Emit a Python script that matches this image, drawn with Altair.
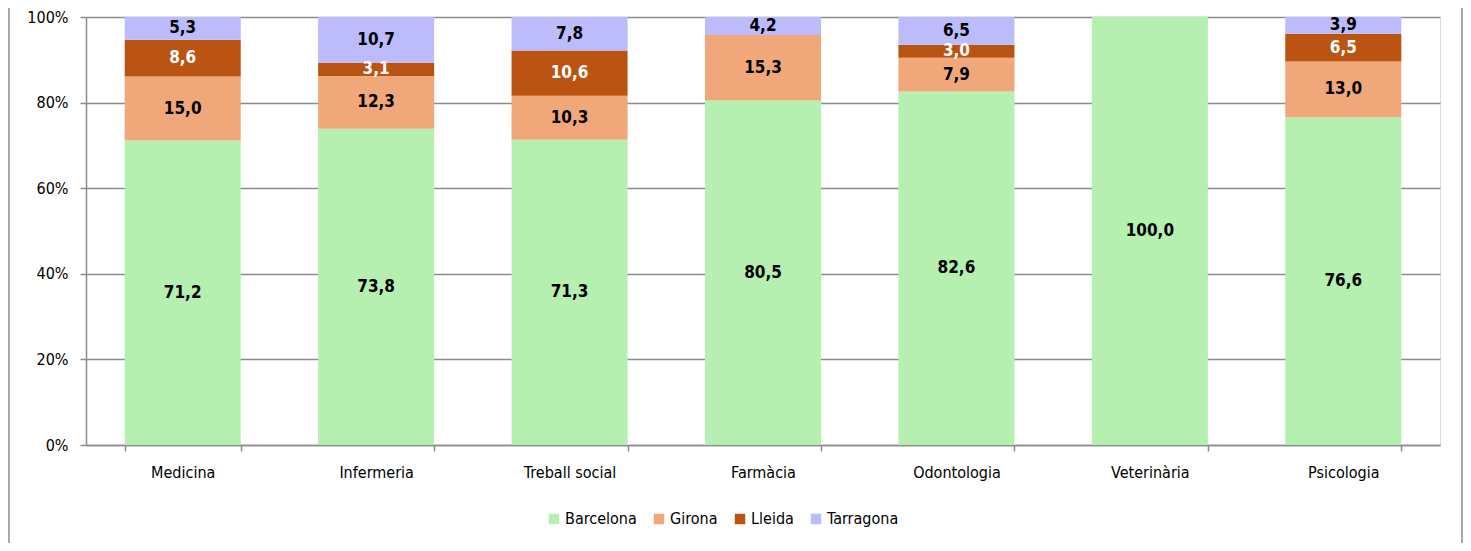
import altair as alt
import pandas as pd

categories = ["Medicina", "Infermeria", "Treball social", "Farmàcia", "Odontologia", "Veterinària", "Psicologia"]
provinces = ["Barcelona", "Girona", "Lleida", "Tarragona"]
barcelona = [71.2, 73.8, 71.3, 80.5, 82.6, 100.0, 76.6]
girona = [15.0, 12.3, 10.3, 15.3, 7.9, 0.0, 13.0]
lleida = [8.6, 3.1, 10.6, 0.0, 3.0, 0.0, 6.5]
tarragona = [5.3, 10.7, 7.8, 4.2, 6.5, 0.0, 3.9]
colors = ["#B5F0B0", "#F0A87A", "#BB5413", "#BCBCFC"]
label_colors = ["#000000", "#000000", "#FFFFFF", "#000000"]

rows = []
for series_i, (prov, vals) in enumerate(zip(provinces, [barcelona, girona, lleida, tarragona])):
    for cat, v in zip(categories, vals):
        rows.append({"cat": cat, "prov": prov, "value": v, "order": series_i,
                     "lcolor": label_colors[series_i]})
df = pd.DataFrame(rows)

FONT = "'DejaVu Sans Condensed', 'Liberation Sans', sans-serif"

base = alt.Chart(df).transform_stack(
    stack="value", groupby=["cat"], as_=["y0", "y1"],
    sort=[alt.SortField("order", order="ascending")], offset="normalize"
).transform_calculate(
    mid="(datum.y0 + datum.y1) / 2",
    label="replace(format(datum.value, '.1f'), '.', ',')"
)

xenc = alt.X("cat:N", sort=categories, title=None,
             scale=alt.Scale(paddingInner=0.4, paddingOuter=0.2),
             axis=alt.Axis(labelAngle=0, labelFont=FONT, labelFontSize=16, labelColor="#000",
                           labelPadding=13, tickBand="extent", tickSize=6, tickColor="#8c8c8c",
                           domainColor="#8c8c8c", domainWidth=1.5, tickWidth=1.5, grid=False))

bars = base.mark_bar().encode(
    x=xenc,
    y=alt.Y("y0:Q", scale=alt.Scale(domain=[0, 1]), title=None,
            axis=alt.Axis(format="%", values=[0, 0.2, 0.4, 0.6, 0.8, 1.0], labelFont=FONT,
                          labelFontSize=16, labelColor="#000", labelPadding=12,
                          tickSize=6, tickColor="#8c8c8c", tickWidth=1.5,
                          domainColor="#8c8c8c", domainWidth=1.5,
                          gridColor="#8c8c8c", gridWidth=1.5)),
    y2="y1:Q",
    color=alt.Color("prov:N", sort=provinces,
                    scale=alt.Scale(domain=provinces, range=colors),
                    legend=alt.Legend(title=None, orient="none", direction="horizontal",
                                      legendX=460, legendY=494, symbolType="square",
                                      symbolSize=110, symbolStrokeWidth=0, symbolOpacity=1,
                                      labelFont=FONT, labelFontSize=16, labelColor="#000",
                                      columnPadding=14, labelOffset=3)),
    order=alt.Order("order:Q"),
)

texts = base.transform_filter("datum.value > 0").mark_text(
    font=FONT, fontSize=17, fontWeight="bold"
).encode(
    x=alt.X("cat:N", sort=categories),
    y=alt.Y("mid:Q"),
    text="label:N",
    color=alt.Color("lcolor:N", scale=None),
)

frame_left = alt.Chart(pd.DataFrame({"a": [0]})).mark_rule(
    stroke="#8c8c8c", strokeWidth=1.5, clip=False
).encode(x=alt.value(-77), y=alt.value(-40), y2=alt.value(600))
frame_right = alt.Chart(pd.DataFrame({"a": [0]})).mark_rule(
    stroke="#8c8c8c", strokeWidth=1.5, clip=False
).encode(x=alt.value(1376), y=alt.value(-40), y2=alt.value(600))

chart = alt.layer(frame_left, frame_right, bars, texts).properties(
    width=1354, height=428,
    autosize=alt.AutoSizeParams(type="none"),
    padding={"left": 78, "top": 9, "right": 23, "bottom": 98},
).configure_view(stroke=None).configure(background="white")

chart.save("out.html", embed_options={"renderer": "svg", "actions": False})
